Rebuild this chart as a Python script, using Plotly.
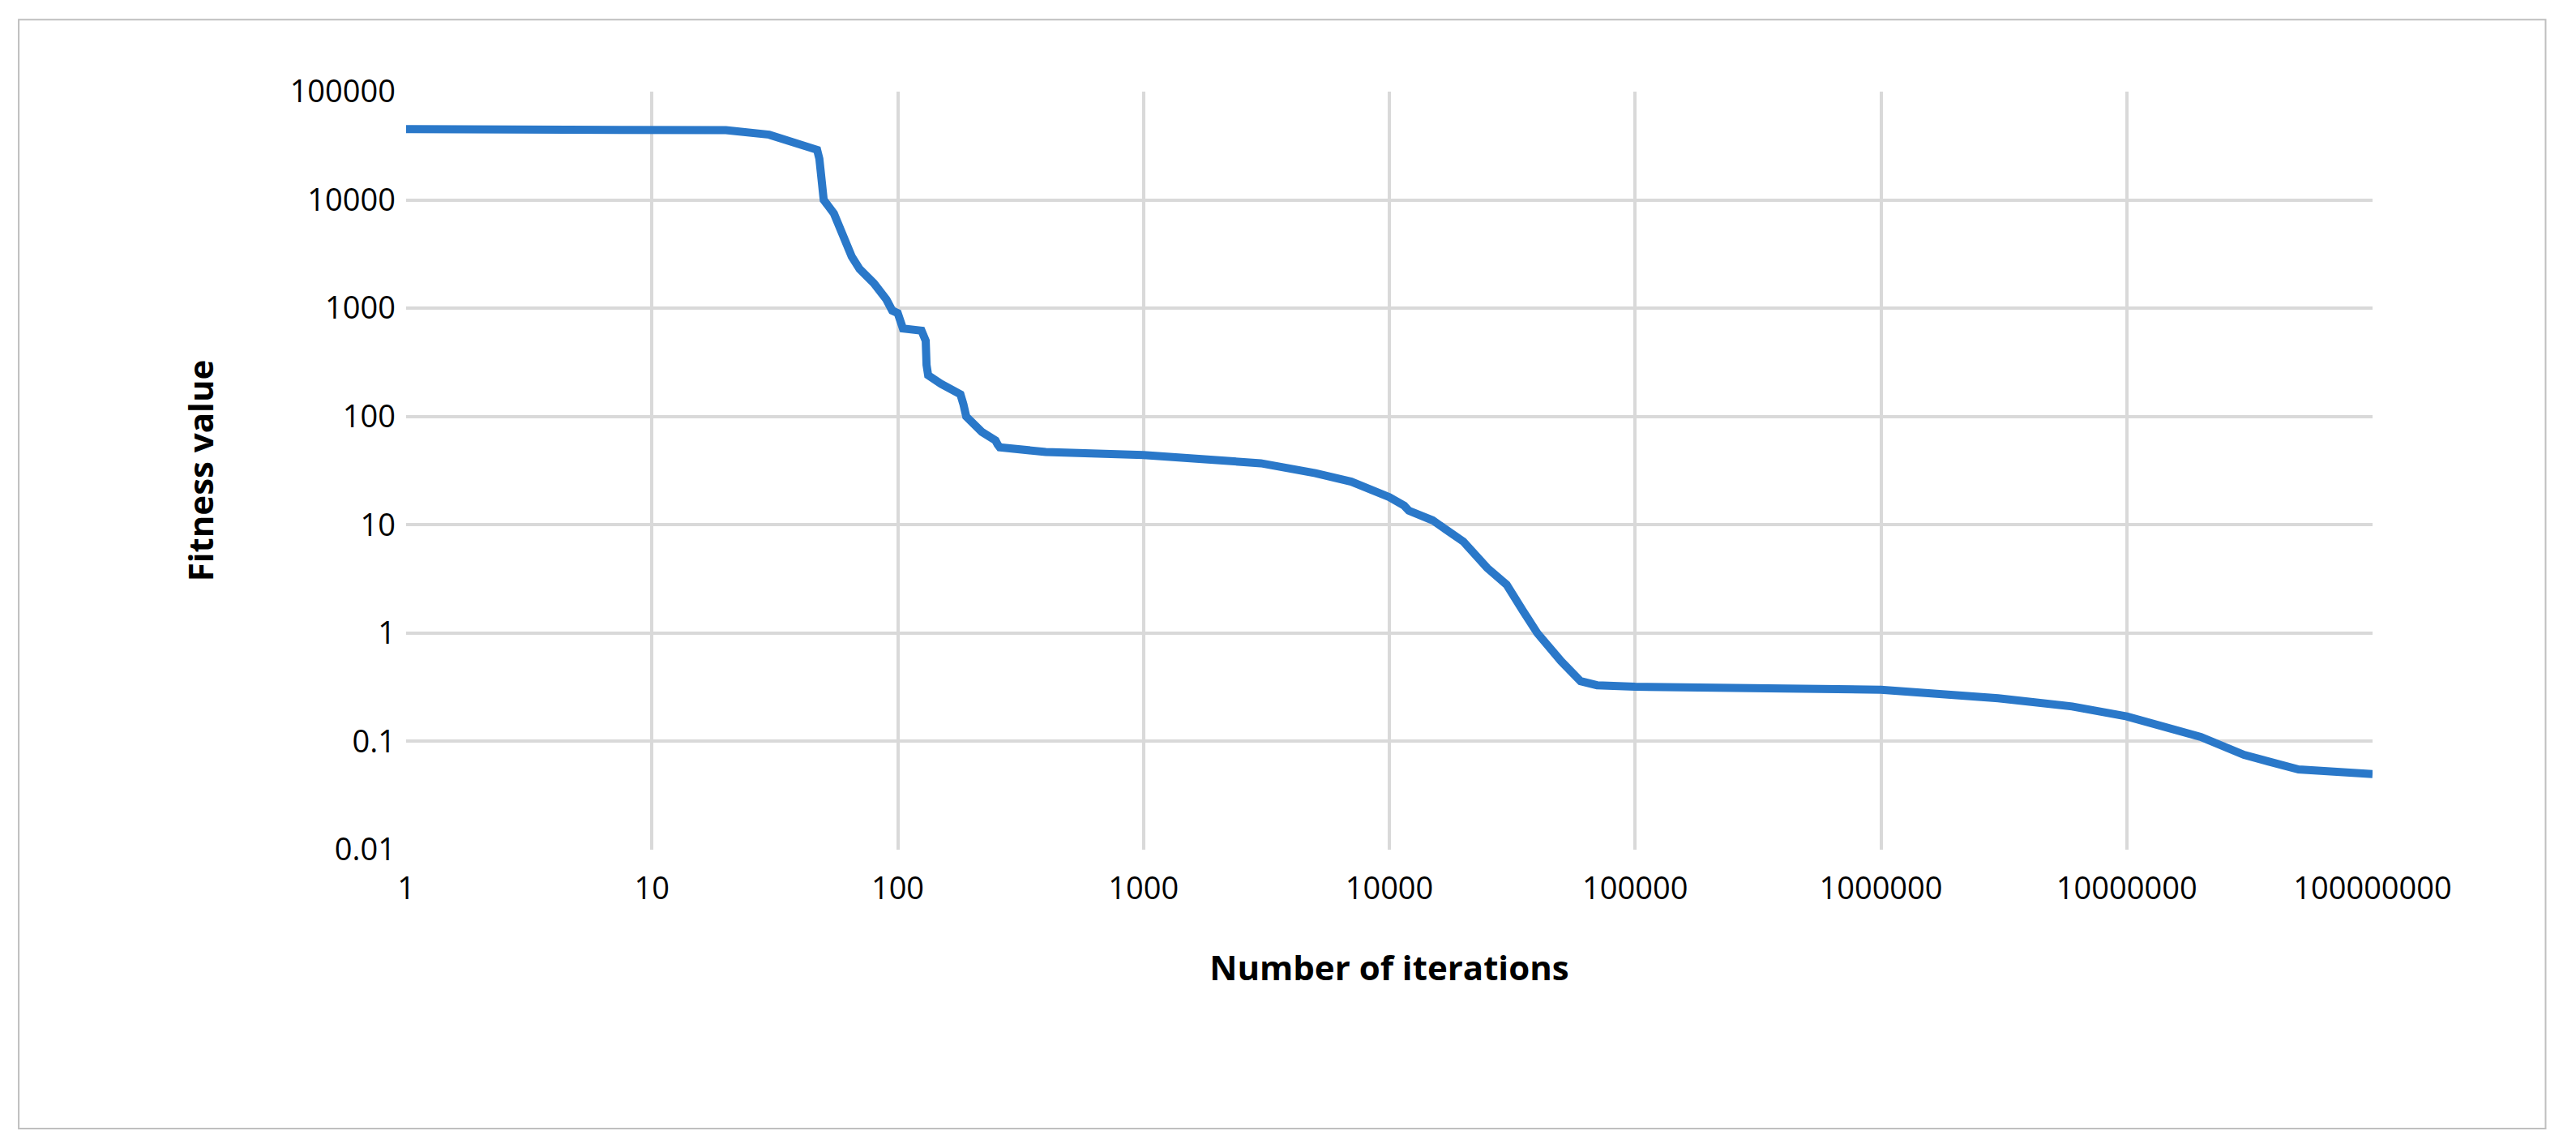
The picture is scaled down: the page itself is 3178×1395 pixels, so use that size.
import plotly.graph_objects as go

iterations = [1, 10, 20, 30, 40, 47, 48, 49, 50, 55, 58, 60, 65, 70, 80, 90, 95, 100, 105, 125, 128, 130, 131, 133,
              150, 180, 185, 190, 220, 250, 255, 260, 400, 600, 1000, 3000, 5000, 7000, 10000, 11500, 12000, 15000,
              20000, 25000, 30000, 35000, 40000, 50000, 60000, 70000, 100000, 1e6, 3e6, 6e6, 1e7, 2e7, 3e7, 5e7, 1e8]
fitness = [45000, 45000, 44000, 40000, 33000, 29000, 24000, 14000, 10000, 7500, 5500, 4500, 3000, 2300, 1700, 1200, 950, 900, 650, 620, 550, 500, 300, 240,
           200, 160, 130, 100, 72, 60, 55, 52, 47, 45, 44, 37, 30, 25, 18, 15, 13.5, 11,
           7, 4, 2.8, 1.6, 1.0, 0.55, 0.36, 0.33, 0.32, 0.3, 0.25, 0.21, 0.17, 0.11, 0.075, 0.055, 0.05]

x_ticks = [1, 10, 100, 1000, 10000, 100000, 1000000, 10000000, 100000000]
x_labels = ["1", "10", "100", "1000", "10000", "100000", "1000000", "10000000", "100000000"]
y_ticks = [0.01, 0.1, 1, 10, 100, 1000, 10000, 100000]
y_labels = ["0.01", "0.1", "1", "10", "100", "1000", "10000", "100000"]

fig = go.Figure(go.Scatter(x=iterations, y=fitness, mode="lines",
                           line=dict(color="#2a78c9", width=10)))
font = dict(family="Open Sans", size=38, color="#000")
fig.update_layout(
    width=3178, height=1395, paper_bgcolor="white", plot_bgcolor="white",
    margin=dict(l=493, r=259, t=105, b=355), showlegend=False, font=font,
    shapes=[dict(type="rect", xref="paper", yref="paper", x0=-0.197, x1=1.088, y0=-0.368, y1=1.095,
                 line=dict(color="#bfbfbf", width=2))],
)
fig.update_xaxes(type="log", range=[0, 8], tickvals=x_ticks, ticktext=x_labels,
                 showgrid=True, gridcolor="#d9d9d9", gridwidth=4, zeroline=False,
                 showline=False, ticks="", tickfont=font, ticklabelstandoff=22,
                 title=dict(text="<b>Number of iterations</b>", font=dict(family="Open Sans", size=42), standoff=60))
fig.update_yaxes(type="log", range=[-2, 5], tickvals=y_ticks, ticktext=y_labels,
                 showgrid=True, gridcolor="#d9d9d9", gridwidth=4, zeroline=False,
                 showline=False, ticks="", tickfont=font, ticklabelstandoff=12,
                 title=dict(text="<b>Fitness value</b>", font=dict(family="Open Sans", size=42), standoff=80))
fig.write_html("out.html")
